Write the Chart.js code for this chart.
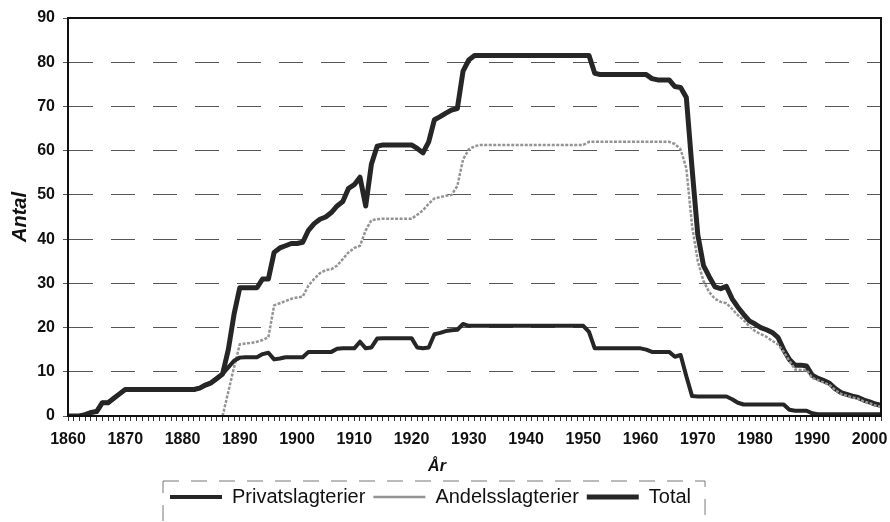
<!DOCTYPE html>
<html>
<head>
<meta charset="utf-8">
<title>Slagterier</title>
<script src="https://cdn.jsdelivr.net/npm/chart.js@4/dist/chart.umd.min.js"></script>
<style>
  body { margin: 0; background: #fff; }
  #wrap { width: 890px; height: 522px; }
</style>
</head>
<body>
<div id="wrap"><canvas id="chart"></canvas></div>
<script>
// years on the x axis
const years = [
  1860, 1861, 1862, 1863, 1864, 1865, 1866, 1867, 1868, 1869,
  1870, 1871, 1872, 1873, 1874, 1875, 1876, 1877, 1878, 1879,
  1880, 1881, 1882, 1883, 1884, 1885, 1886, 1887, 1888, 1889,
  1890, 1891, 1892, 1893, 1894, 1895, 1896, 1897, 1898, 1899,
  1900, 1901, 1902, 1903, 1904, 1905, 1906, 1907, 1908, 1909,
  1910, 1911, 1912, 1913, 1914, 1915, 1916, 1917, 1918, 1919,
  1920, 1921, 1922, 1923, 1924, 1925, 1926, 1927, 1928, 1929,
  1930, 1931, 1932, 1933, 1934, 1935, 1936, 1937, 1938, 1939,
  1940, 1941, 1942, 1943, 1944, 1945, 1946, 1947, 1948, 1949,
  1950, 1951, 1952, 1953, 1954, 1955, 1956, 1957, 1958, 1959,
  1960, 1961, 1962, 1963, 1964, 1965, 1966, 1967, 1968, 1969,
  1970, 1971, 1972, 1973, 1974, 1975, 1976, 1977, 1978, 1979,
  1980, 1981, 1982, 1983, 1984, 1985, 1986, 1987, 1988, 1989,
  1990, 1991, 1992, 1993, 1994, 1995, 1996, 1997, 1998, 1999,
  2000, 2001, 2002
];

const privat = [
  0, 0, 0, 0.3, 0.8, 1, 3, 3, 4, 5,
  6, 6, 6, 6, 6, 6, 6, 6, 6, 6,
  6, 6, 6, 6.3, 7, 7.5, 8.5, 9.5, 11, 12.5,
  13.2, 13.3, 13.3, 13.3, 14, 14.3, 12.8, 13, 13.3, 13.3,
  13.3, 13.3, 14.5, 14.5, 14.5, 14.5, 14.5, 15.2, 15.3, 15.3,
  15.3, 16.8, 15.3, 15.5, 17.5, 17.6, 17.6, 17.6, 17.6, 17.6,
  17.6, 15.5, 15.3, 15.5, 18.5, 18.8, 19.2, 19.4, 19.5, 20.8,
  20.4, 20.4, 20.4, 20.4, 20.4, 20.4, 20.4, 20.4, 20.4, 20.4,
  20.4, 20.4, 20.4, 20.4, 20.4, 20.4, 20.4, 20.4, 20.4, 20.4,
  20.4, 19, 15.3, 15.3, 15.3, 15.3, 15.3, 15.3, 15.3, 15.3,
  15.3, 15, 14.5, 14.5, 14.5, 14.5, 13.4, 13.8, 9, 4.5,
  4.4, 4.4, 4.4, 4.4, 4.4, 4.4, 3.8, 3, 2.6, 2.6,
  2.6, 2.6, 2.6, 2.6, 2.6, 2.6, 1.4, 1.2, 1.2, 1.2,
  0.6, 0.4, 0.4, 0.4, 0.4, 0.4, 0.4, 0.4, 0.4, 0.4,
  0.4, 0.4, 0.4
];

const andels = [
  null, null, null, null, null, null, null, null, null, null,
  null, null, null, null, null, null, null, null, null, null,
  null, null, null, null, null, null, null, 0, 5.5, 11,
  16.2, 16.4, 16.5, 16.8, 17.2, 17.8, 25, 25.5, 26, 26.5,
  26.8, 27, 29.5, 31, 32.3, 33, 33.2, 34, 35.5, 37,
  38, 38.5, 42, 44.3, 44.5, 44.6, 44.6, 44.6, 44.6, 44.6,
  44.6, 45.5, 46.5, 48, 49.2, 49.5, 49.8, 50, 52, 58,
  60.3, 61, 61.3, 61.3, 61.3, 61.3, 61.3, 61.3, 61.3, 61.3,
  61.3, 61.3, 61.3, 61.3, 61.3, 61.3, 61.3, 61.3, 61.3, 61.3,
  61.3, 62, 62, 62, 62, 62, 62, 62, 62, 62,
  62, 62, 62, 62, 62, 62, 61.5, 60.3, 56, 43,
  35, 30.5, 28, 26.5, 25.8, 25.5, 24.2, 22.8, 21.7, 20.3,
  19.2, 18.5, 17.9, 17, 16.2, 14.5, 12.5, 10.5, 10.4, 10.4,
  8.6, 8.1, 7.6, 7, 5.9, 5, 4.6, 4.2, 3.9, 3.3,
  2.9, 2.4, 2.1
];

const total = [
  0, 0, 0, 0.3, 0.8, 1, 3, 3, 4, 5,
  6, 6, 6, 6, 6, 6, 6, 6, 6, 6,
  6, 6, 6, 6.3, 7, 7.5, 8.5, 9.5, 15, 23,
  29, 29, 29, 29, 31, 31, 37, 38, 38.5, 39,
  39, 39.3, 42, 43.5, 44.5, 45, 46, 47.5, 48.5, 51.5,
  52.3, 54, 47.5, 57, 61, 61.3, 61.3, 61.3, 61.3, 61.3,
  61.3, 60.5, 59.5, 62, 67, 67.7, 68.5, 69.2, 69.5, 78,
  80.5, 81.5, 81.5, 81.5, 81.5, 81.5, 81.5, 81.5, 81.5, 81.5,
  81.5, 81.5, 81.5, 81.5, 81.5, 81.5, 81.5, 81.5, 81.5, 81.5,
  81.5, 81.5, 77.5, 77.2, 77.2, 77.2, 77.2, 77.2, 77.2, 77.2,
  77.2, 77.2, 76.3, 76, 76, 76, 74.5, 74.3, 72, 56,
  41, 34, 31.5, 29.2, 28.8, 29.3, 26.5, 24.6, 23, 21.5,
  20.8, 20, 19.5, 18.9, 17.8, 15, 12.8, 11.5, 11.5, 11.3,
  9.2, 8.5, 8, 7.4, 6.2, 5.3, 4.9, 4.5, 4.2, 3.6,
  3.2, 2.7, 2.4
];

const seriesNames = ["Privatslagterier", "Andelsslagterier", "Total"];
const xTitle = "År";
const yTitle = "Antal";

const font = "'Liberation Sans', Arial, sans-serif";

function points(vals) {
  return years.map((y, i) => ({ x: y, y: vals[i] }));
}

// frame round the plot, x title and dashed box round the legend
const framePlugin = {
  id: "frame",
  afterLayout(chart) {
    chart.legend.left = 162;
  },
  afterDraw(chart) {
    const ctx = chart.ctx;
    const a = chart.chartArea;
    ctx.save();
    ctx.strokeStyle = "#111";
    ctx.lineWidth = 2;
    ctx.strokeRect(a.left, a.top, a.right - a.left, a.bottom - a.top);

    // x axis title sits a little left of the plot centre in the original
    ctx.fillStyle = "#111";
    ctx.font = "italic bold 16px " + font;
    ctx.textAlign = "center";
    ctx.textBaseline = "middle";
    ctx.fillText(xTitle, 437, 467);

    const lg = chart.legend;
    const hb = lg.legendHitBoxes;
    const first = hb[0];
    const last = hb[hb.length - 1];
    const bx = first.left - 7;
    const bw = last.left + last.width + 14 - bx;
    ctx.strokeStyle = "#777";
    ctx.lineWidth = 1;
    ctx.setLineDash([16, 12]);
    ctx.strokeRect(bx, lg.top + 2, bw, 80);
    ctx.restore();
  }
};

const ctx = document.getElementById("chart").getContext("2d");
const myChart = new Chart(ctx, {
  type: "line",
  data: {
    datasets: [
      {
        label: seriesNames[0],
        data: points(privat),
        borderColor: "#262626",
        backgroundColor: "#262626",
        borderWidth: 4,
      },
      {
        label: seriesNames[1],
        data: points(andels),
        borderColor: "#949494",
        backgroundColor: "#949494",
        borderWidth: 2.5,
        borderDash: [3, 1.5],
      },
      {
        label: seriesNames[2],
        data: points(total),
        borderColor: "#262626",
        backgroundColor: "#262626",
        borderWidth: 5,
      },
    ],
  },
  options: {
    responsive: true,
    maintainAspectRatio: false,
    animation: false,
    layout: { padding: { left: 0, right: 8, top: 18, bottom: 5 } },
    elements: {
      point: { radius: 0 },
      line: { tension: 0, borderJoinStyle: "round" },
    },
    plugins: {
      tooltip: { enabled: false },
      legend: {
        position: "bottom",
        align: "start",
        labels: {
          usePointStyle: true,
          pointStyle: "line",
          pointStyleWidth: 52,
          padding: 8,
          color: "#111",
          font: { family: font, size: 20 },
        },
      },
    },
    scales: {
      x: {
        type: "linear",
        min: 1860,
        max: 2002,
        afterFit: (scale) => { scale.height = 63; },
        ticks: {
          stepSize: 1,
          autoSkip: false,
          maxTicksLimit: 200,
          maxRotation: 0,
          padding: 9,
          color: "#111",
          font: { family: font, size: 16, weight: "bold" },
          callback: (v) => (v % 10 === 0 ? String(v) : ""),
        },
        grid: {
          drawOnChartArea: false,
          drawTicks: true,
          tickLength: 5,
          color: "#333",
        },
        border: { display: true, color: "#111", width: 2 },
      },
      y: {
        min: 0,
        max: 90,
        afterFit: (scale) => { scale.width = 68; },
        ticks: {
          stepSize: 10,
          padding: 8,
          color: "#111",
          font: { family: font, size: 16, weight: "bold" },
        },
        grid: {
          color: "#555",
          lineWidth: 1,
          tickLength: 5,
        },
        border: { display: true, color: "#111", width: 2, dash: [24, 18] },
        title: {
          display: true,
          text: yTitle,
          color: "#111",
          padding: 8,
          font: { family: font, size: 20, weight: "bold", style: "italic" },
        },
      },
    },
  },
  plugins: [framePlugin],
});
</script>
</body>
</html>
